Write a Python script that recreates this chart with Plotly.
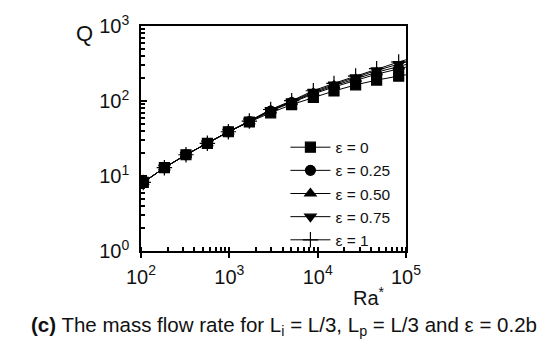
import plotly.graph_objects as go

# Ra* values (13 marked points + one beyond the axis end so the lines run to the frame)
ra = [106, 184, 323, 564, 975, 1684, 2938, 5078, 8933, 15300, 26900, 46500, 82600, 125000]

q_eps0 = [8.2, 12.9, 19.2, 27.3, 38.9, 52.5, 69.6, 89.5, 112, 136, 164, 190, 215, 234]
q_eps025 = [8.2, 12.9, 19.2, 27.3, 38.9, 53.0, 73.3, 95.3, 124, 154, 188, 228, 268, 303]
q_eps050 = [8.2, 12.9, 19.2, 27.3, 38.9, 53.2, 74.5, 97.1, 128, 160, 197, 242, 288, 330]
q_eps075 = [8.2, 12.9, 19.2, 27.3, 38.9, 53.5, 75.8, 99.1, 132, 166, 206, 256, 310, 357]
q_eps1 = [8.2, 12.9, 19.2, 27.3, 38.9, 54.0, 77.0, 101, 137, 172, 215, 270, 331, 384]

series_names = ["ε = 0", "ε = 0.25", "ε = 0.50", "ε = 0.75", "ε = 1"]
series_values = [q_eps0, q_eps025, q_eps050, q_eps075, q_eps1]
symbols = ["square", "circle", "triangle-up", "triangle-down", "cross-thin"]

tick_vals = [1, 10, 100, 1000, 10000, 100000]
tick_text = ["10<sup>0</sup>", "10<sup>1</sup>", "10<sup>2</sup>", "10<sup>3</sup>",
             "10<sup>4</sup>", "10<sup>5</sup>"]

FONT = "Liberation Sans, Arial, sans-serif"

fig = go.Figure()
for name, vals, sym in zip(series_names, series_values, symbols):
    fig.add_trace(go.Scatter(
        x=ra, y=vals, name=name, mode="lines+markers",
        line=dict(color="black", width=1),
        marker=dict(symbol=sym, size=10 if sym != "cross-thin" else 11, color="black",
                    line=dict(color="black", width=1.2)),
        cliponaxis=True,
    ))

fig.update_layout(
    width=543, height=340,
    margin=dict(l=141, r=137, t=20, b=89),
    paper_bgcolor="white", plot_bgcolor="white",
    font=dict(family=FONT, size=17, color="#111"),
    showlegend=True,
    legend=dict(x=0.545, y=0.535, xanchor="left", yanchor="top",
                bgcolor="rgba(0,0,0,0)", borderwidth=0,
                font=dict(family=FONT, size=15.5, color="#111"),
                tracegroupgap=0, itemwidth=40),
)

fig.update_xaxes(
    type="log", range=[2, 5],
    tickvals=tick_vals, ticktext=tick_text,
    showline=True, linecolor="black", linewidth=1.5, mirror=True,
    ticks="outside", ticklen=5, tickcolor="black", tickwidth=1.5,
    minor=dict(ticks="inside", ticklen=4, tickcolor="black", dtick="D1", showgrid=False),
    showgrid=False, zeroline=False,
    tickfont=dict(family=FONT, size=20, color="#111"),
    ticklabelstandoff=2,
)
fig.update_yaxes(
    type="log", range=[0, 3],
    tickvals=tick_vals[:4], ticktext=tick_text[:4],
    showline=True, linecolor="black", linewidth=1.5, mirror=True,
    ticks="inside", ticklen=6, tickcolor="black", tickwidth=1.5,
    minor=dict(ticks="inside", ticklen=4, tickcolor="black", dtick="D1", showgrid=False),
    showgrid=False, zeroline=False,
    tickfont=dict(family=FONT, size=20, color="#111"),
    ticklabelstandoff=6,
)

fig.add_annotation(text="Q", xref="paper", yref="paper", x=-0.215, y=0.965,
                   xanchor="center", yanchor="middle",
                   showarrow=False, font=dict(family=FONT, size=22, color="#111"))
fig.add_annotation(text="Ra<sup>*</sup>", xref="paper", yref="paper", x=0.86, y=-0.2,
                   xanchor="center", yanchor="middle",
                   showarrow=False, font=dict(family=FONT, size=20, color="#111"))
fig.add_annotation(
    text="<b>(c)</b> The mass flow rate for L<sub>i</sub> = L/3, L<sub>p</sub> = L/3 and ε = 0.2b",
    xref="paper", yref="paper", x=0.54, y=-0.335, xanchor="center", yanchor="middle",
    showarrow=False, font=dict(family=FONT, size=20.5, color="#111"))

fig.write_html("out.html")
